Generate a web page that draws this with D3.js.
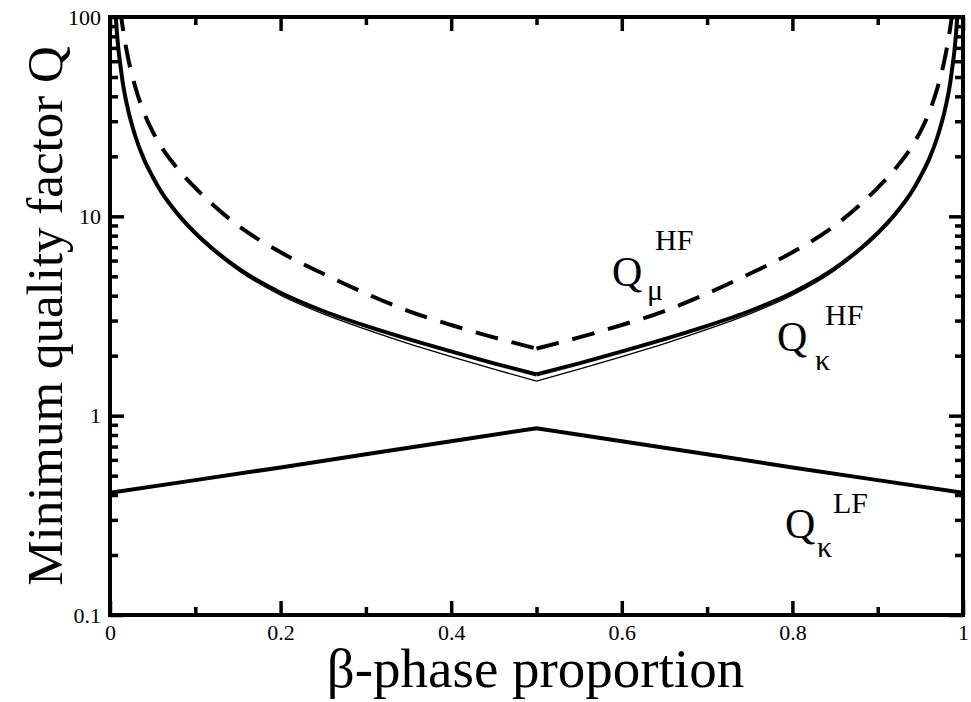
<!DOCTYPE html>
<html>
<head>
<meta charset="utf-8">
<script src="https://cdn.jsdelivr.net/npm/d3@7"></script>
<style>
  body { margin: 0; background: #fff; }
  text { font-family: "Liberation Serif", "Times New Roman", serif; fill: #000; }
</style>
</head>
<body>
<script>
// beta-phase proportion
var phase = [0.005, 0.0075, 0.01, 0.0125, 0.015, 0.02, 0.03, 0.04, 0.05, 0.06, 0.08, 0.1, 0.12, 0.15, 0.2, 0.25, 0.3, 0.35, 0.4, 0.45, 0.5,
             0.55, 0.6, 0.65, 0.7, 0.75, 0.8, 0.85, 0.88, 0.9, 0.92, 0.94, 0.95, 0.96, 0.97, 0.98, 0.985, 0.9875, 0.99, 0.9925, 0.995];
// Q_kappa HF (thick), Q_kappa HF (thin), Q_mu HF (dashed), Q_kappa LF
var qKappaHF = [130, 90, 68, 56, 46.7, 36, 25, 19.25, 15.8, 13.3, 10.2, 8.25, 6.9, 5.5, 4.14, 3.35, 2.82, 2.42, 2.1, 1.83, 1.61,
                1.83, 2.1, 2.42, 2.82, 3.35, 4.14, 5.5, 6.9, 8.25, 10.2, 13.3, 15.8, 19.25, 25, 36, 46.7, 56, 68, 90, 130];
var qKappaHFthin = [129, 89.6, 67.7, 55.6, 46.4, 35.7, 24.8, 19.1, 15.65, 13.15, 10.05, 8.1, 6.76, 5.37, 4.02, 3.24, 2.71, 2.3, 1.98, 1.71, 1.49,
                    1.71, 1.98, 2.3, 2.71, 3.24, 4.02, 5.37, 6.76, 8.1, 10.05, 13.15, 15.65, 19.1, 24.8, 35.7, 46.4, 55.6, 67.7, 89.6, 129];
var qMuHF = [260, 175, 130, 105, 88, 66, 44, 33, 26.6, 22.4, 17.2, 13.9, 11.5, 9.0, 6.6, 5.15, 4.1, 3.35, 2.85, 2.47, 2.17,
             2.47, 2.85, 3.35, 4.1, 5.15, 6.6, 9.0, 11.5, 13.9, 17.2, 22.4, 26.6, 33, 44, 66, 88, 105, 130, 175, 260];
var lfPhase = [0, 0.1, 0.2, 0.3, 0.4, 0.5, 0.6, 0.7, 0.8, 0.9, 1];
var qKappaLF = [0.41, 0.475, 0.55, 0.64, 0.745, 0.865, 0.745, 0.64, 0.55, 0.475, 0.41];

var xMajor = [0, 0.2, 0.4, 0.6, 0.8, 1];
var xMinor = [0.1, 0.3, 0.5, 0.7, 0.9];
var yMajor = [0.1, 1, 10, 100];
var yMinor = [0.2, 0.3, 0.4, 0.5, 0.6, 0.7, 0.8, 0.9, 2, 3, 4, 5, 6, 7, 8, 9, 20, 30, 40, 50, 60, 70, 80, 90];

var margin = {top: 17, right: 8, bottom: 87, left: 110},
    width = 971 - margin.left - margin.right,
    height = 702 - margin.top - margin.bottom;

var svg = d3.select("body").append("svg")
    .attr("width", 971)
    .attr("height", 702);

var g = svg.append("g")
    .attr("transform", "translate(" + margin.left + "," + margin.top + ")");

var x = d3.scaleLinear().domain([0, 1]).range([0, width]);
var y = d3.scaleLog().domain([0.1, 100]).range([height, 0]);

g.append("clipPath").attr("id", "clip")
  .append("rect").attr("width", width).attr("height", height);

// curves
var curves = g.append("g").attr("clip-path", "url(#clip)");

// each branch drawn on its own so the cusp at 0.5 stays sharp
var mid = phase.indexOf(0.5);
function hfLine(vals) {
  var pts = vals.map(function(d, i) { return [phase[i], d]; });
  var line = d3.line()
    .x(function(d) { return x(d[0]); })
    .y(function(d) { return y(d[1]); })
    .curve(d3.curveMonotoneX);
  return line(pts.slice(0, mid + 1)) + line(pts.slice(mid));
}

curves.append("path")
    .attr("d", hfLine(qMuHF))
    .attr("fill", "none").attr("stroke", "#000")
    .attr("stroke-width", 4).attr("stroke-dasharray", "23,14");

curves.append("path")
    .attr("d", hfLine(qKappaHFthin))
    .attr("fill", "none").attr("stroke", "#000").attr("stroke-width", 1.3);

curves.append("path")
    .attr("d", hfLine(qKappaHF))
    .attr("fill", "none").attr("stroke", "#000").attr("stroke-width", 4)
    .attr("stroke-linejoin", "miter");

curves.append("path")
    .attr("d", d3.line()
      .x(function(d, i) { return x(lfPhase[i]); })
      .y(function(d) { return y(d); })(qKappaLF))
    .attr("fill", "none").attr("stroke", "#000").attr("stroke-width", 4);

// axes, ticks pointing inward on all four sides
function styleAxis(sel) {
  sel.select(".domain").remove();
  sel.selectAll(".tick line").attr("stroke", "#000").attr("stroke-width", 3.5);
  sel.selectAll(".tick text").style("font-size", "22px");
}

g.append("g").attr("transform", "translate(0," + height + ")")
  .call(d3.axisBottom(x).tickValues(xMajor).tickSize(-14).tickPadding(9)
    .tickFormat(function(d) { return d === 0 || d === 1 ? d : d3.format(".1f")(d); }))
  .call(styleAxis);
g.append("g").attr("transform", "translate(0," + height + ")")
  .call(d3.axisBottom(x).tickValues(xMinor).tickSize(-8).tickFormat(""))
  .call(styleAxis);
g.append("g")
  .call(d3.axisTop(x).tickValues(xMajor).tickSize(-14).tickFormat(""))
  .call(styleAxis);
g.append("g")
  .call(d3.axisTop(x).tickValues(xMinor).tickSize(-8).tickFormat(""))
  .call(styleAxis);

g.append("g")
  .call(d3.axisLeft(y).tickValues(yMajor).tickSize(-14).tickPadding(9)
    .tickFormat(function(d) { return d; }))
  .call(styleAxis);
g.append("g")
  .call(d3.axisLeft(y).tickValues(yMinor).tickSize(-8).tickFormat(""))
  .call(styleAxis);
g.append("g").attr("transform", "translate(" + width + ",0)")
  .call(d3.axisRight(y).tickValues(yMajor).tickSize(-14).tickFormat(""))
  .call(styleAxis);
g.append("g").attr("transform", "translate(" + width + ",0)")
  .call(d3.axisRight(y).tickValues(yMinor).tickSize(-8).tickFormat(""))
  .call(styleAxis);

// frame
g.append("rect")
    .attr("width", width).attr("height", height)
    .attr("fill", "none").attr("stroke", "#000").attr("stroke-width", 4);

// axis titles
svg.append("text")
    .attr("transform", "translate(62," + (margin.top + height / 2) + ") rotate(-90)")
    .attr("text-anchor", "middle")
    .style("font-size", "51px")
    .text("Minimum quality factor Q");

svg.append("text")
    .attr("x", margin.left + width / 2 - 1)
    .attr("y", 687)
    .attr("text-anchor", "middle")
    .style("font-size", "55px")
    .text("\u03b2-phase proportion");

// curve labels
function label(qx, qy, sub, subx, suby, sup, supx, supy) {
  svg.append("text").attr("x", qx).attr("y", qy).style("font-size", "42px").text("Q");
  svg.append("text").attr("x", subx).attr("y", suby).style("font-size", "30px").text(sub);
  svg.append("text").attr("x", supx).attr("y", supy).style("font-size", "30px").text(sup);
}
label(612, 286, "\u03bc", 647, 300, "HF", 655, 250);
label(777, 351, "\u03ba", 815, 370, "HF", 825, 325);
label(785, 538, "\u03ba", 817, 557, "LF", 833, 513);
</script>
</body>
</html>
